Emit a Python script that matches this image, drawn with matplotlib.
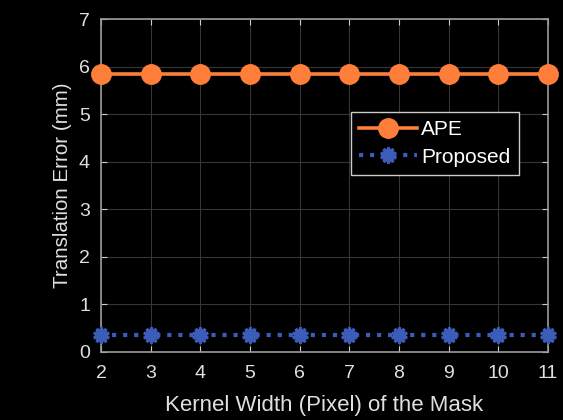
import matplotlib
matplotlib.use("Agg")
import matplotlib.pyplot as plt

kernel_width = [2, 3, 4, 5, 6, 7, 8, 9, 10, 11]
ape = [5.84] * 10
proposed = [0.36] * 10

plt.rcParams['font.family'] = ['Liberation Sans', 'DejaVu Sans']

fig = plt.figure(figsize=(5.63, 4.2), dpi=100, facecolor='black')
ax = fig.add_axes([101/563, 1 - 352/420, (548-101)/563, (352-19)/420])
ax.set_facecolor('black')

orange = '#FF7F3A'
blue = '#3B5CB8'
ax.plot(kernel_width, ape, '-o', color=orange, lw=2.6, ms=14, label='APE',
        zorder=3, clip_on=False)
ax.plot(kernel_width, proposed, ':', color=blue, lw=3, marker=(10, 1, 0), ms=11.5,
        mec=blue, mew=2, label='Proposed', zorder=3, clip_on=False)

ax.set_xlim(2, 11)
ax.set_ylim(0, 7)
ax.set_xticks(kernel_width)
ax.set_yticks(range(0, 8))
ax.grid(True, color='#363636', lw=0.8)
ax.set_axisbelow(True)
for s in ax.spines.values():
    s.set_color('#9A9A9A')
    s.set_linewidth(1.2)
ax.tick_params(direction='in', colors='#CCCCCC', labelcolor='#E0E0E0', labelsize=14,
               top=True, right=True, length=4)
ax.tick_params(axis='x', pad=9)
ax.tick_params(axis='y', pad=8)
ax.set_xlabel('Kernel Width (Pixel) of the Mask', color='#E0E0E0', fontsize=16, labelpad=10)
ax.set_ylabel('Translation Error (mm)', color='#E0E0E0', fontsize=14.8, labelpad=5)

leg = ax.legend(loc='upper right', bbox_to_anchor=((519-101)/447, (352-112)/333),
                borderaxespad=0, facecolor='black', edgecolor='#CCCCCC', fontsize=15,
                labelcolor='white', fancybox=False, framealpha=1, handlelength=2.8,
                borderpad=0.4, handletextpad=0.2, labelspacing=0.4)
leg.get_frame().set_linewidth(1)

fig.savefig('out.png', dpi=100, facecolor='black')
